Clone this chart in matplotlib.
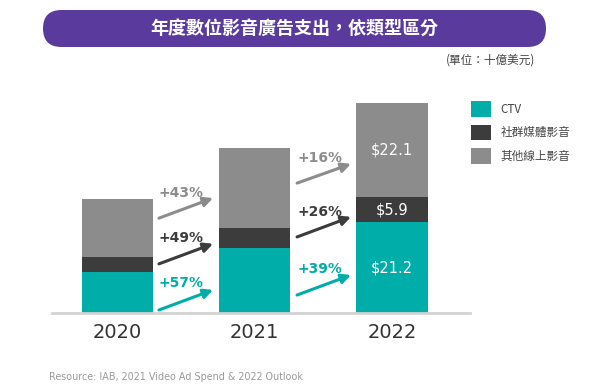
import matplotlib
matplotlib.use("Agg")
import matplotlib.pyplot as plt
from matplotlib.patches import FancyBboxPatch, Patch
import numpy as np

years = ["2020", "2021", "2022"]
series_names = ["CTV", "社群媒體影音", "其他線上影音"]
ctv = [9.7, 15.3, 21.2]
social = [3.4, 4.7, 5.9]
other = [13.6, 18.6, 22.1]
growth_ctv = ["+57%", "+39%"]
growth_social = ["+49%", "+26%"]
growth_other = ["+43%", "+16%"]
value_labels_2022 = ["$21.2", "$5.9", "$22.1"]

title = "年度數位影音廣告支出，依類型區分"
unit_note = "(單位：十億美元)"
source = "Resource: IAB, 2021 Video Ad Spend & 2022 Outlook"

colors = ["#00ADA9", "#3C3C3C", "#8C8C8C"]
CJK = ["Noto Sans CJK TC", "DejaVu Sans"]

fig = plt.figure(figsize=(6.0, 3.88), dpi=100)
W, H = 600, 388
ax = fig.add_axes([52 / W, (H - 313) / H, (470 - 52) / W, (313 - 90) / H])

x = np.arange(len(years))
width = 0.52
stacks = [ctv, social, other]
bottom = np.zeros(len(years))
for vals, c in zip(stacks, colors):
    ax.bar(x, vals, width, bottom=bottom, color=c, linewidth=0)
    bottom = bottom + np.array(vals)

# value labels in the last bar
b = 0.0
for vals, lab in zip(stacks, value_labels_2022):
    v = vals[-1]
    ax.text(x[-1], b + v / 2, lab, ha="center", va="center", color="white",
            fontsize=10.5, family="DejaVu Sans")
    b += v

ax.set_xlim(-0.477, 2.568)
ax.set_ylim(0, 52.2)
ax.set_xticks(x)
ax.set_xticklabels(years, fontsize=14, color="#333333")
ax.tick_params(axis="x", length=0, pad=7)
ax.set_yticks([])
for s in ["left", "right", "top"]:
    ax.spines[s].set_visible(False)
ax.spines["bottom"].set_color("#D3D3D3")
ax.spines["bottom"].set_linewidth(2)

# growth arrows (layout in data coords)
arrow_x = [(0.302, 0.696), (1.308, 1.701)]
arrow_y = {
    0: [(0.7, 5.4), (4.2, 8.9)],
    1: [(11.5, 16.2), (17.8, 22.5)],
    2: [(22.2, 26.9), (30.4, 34.9)],
}
label_y = {0: [7.0, 10.3], 1: [17.6, 23.7], 2: [28.1, 36.3]}
growths = [growth_ctv, growth_social, growth_other]
for si in range(3):
    for gi in range(2):
        x0, x1 = arrow_x[gi]
        y0, y1 = arrow_y[si][gi]
        ax.annotate("", xy=(x1, y1), xytext=(x0, y0),
                    arrowprops=dict(arrowstyle="-|>", color=colors[si], lw=2.2,
                                    mutation_scale=14, shrinkA=0, shrinkB=0))
        ax.text(x0, label_y[si][gi], growths[si][gi], ha="left", va="center",
                color=colors[si], fontsize=10, fontweight="bold", family="DejaVu Sans")

# title banner
banner = FancyBboxPatch((0.43, (H - 47) / 100), 5.03, 0.37,
                        boxstyle="round,pad=0,rounding_size=0.185",
                        transform=fig.dpi_scale_trans, facecolor="#5B3A9E",
                        edgecolor="none")
fig.patches.append(banner)
fig.text(294.5 / W, (H - 28.5) / H, title, ha="center", va="center", color="white",
         fontsize=13, fontweight="bold", family=CJK)
fig.text(535 / W, (H - 60) / H, unit_note, ha="right", va="center", color="#444444",
         fontsize=8.4, family=CJK)

# legend
handles = [Patch(facecolor=c, edgecolor="none") for c in colors]
leg = fig.legend(handles, series_names, loc="upper left",
                 bbox_to_anchor=(471 / W, 1 - 101 / H), frameon=False,
                 borderpad=0, borderaxespad=0, handlelength=1.7, handleheight=1.7,
                 labelspacing=0.68, handletextpad=0.85,
                 prop={"family": CJK, "size": 8.4})
for t in leg.get_texts():
    t.set_color("#444444")

fig.text(49 / W, (H - 377) / H, source, ha="left", va="center", color="#999999",
         fontsize=6.9, family="DejaVu Sans")

fig.savefig("out.png", dpi=100)
